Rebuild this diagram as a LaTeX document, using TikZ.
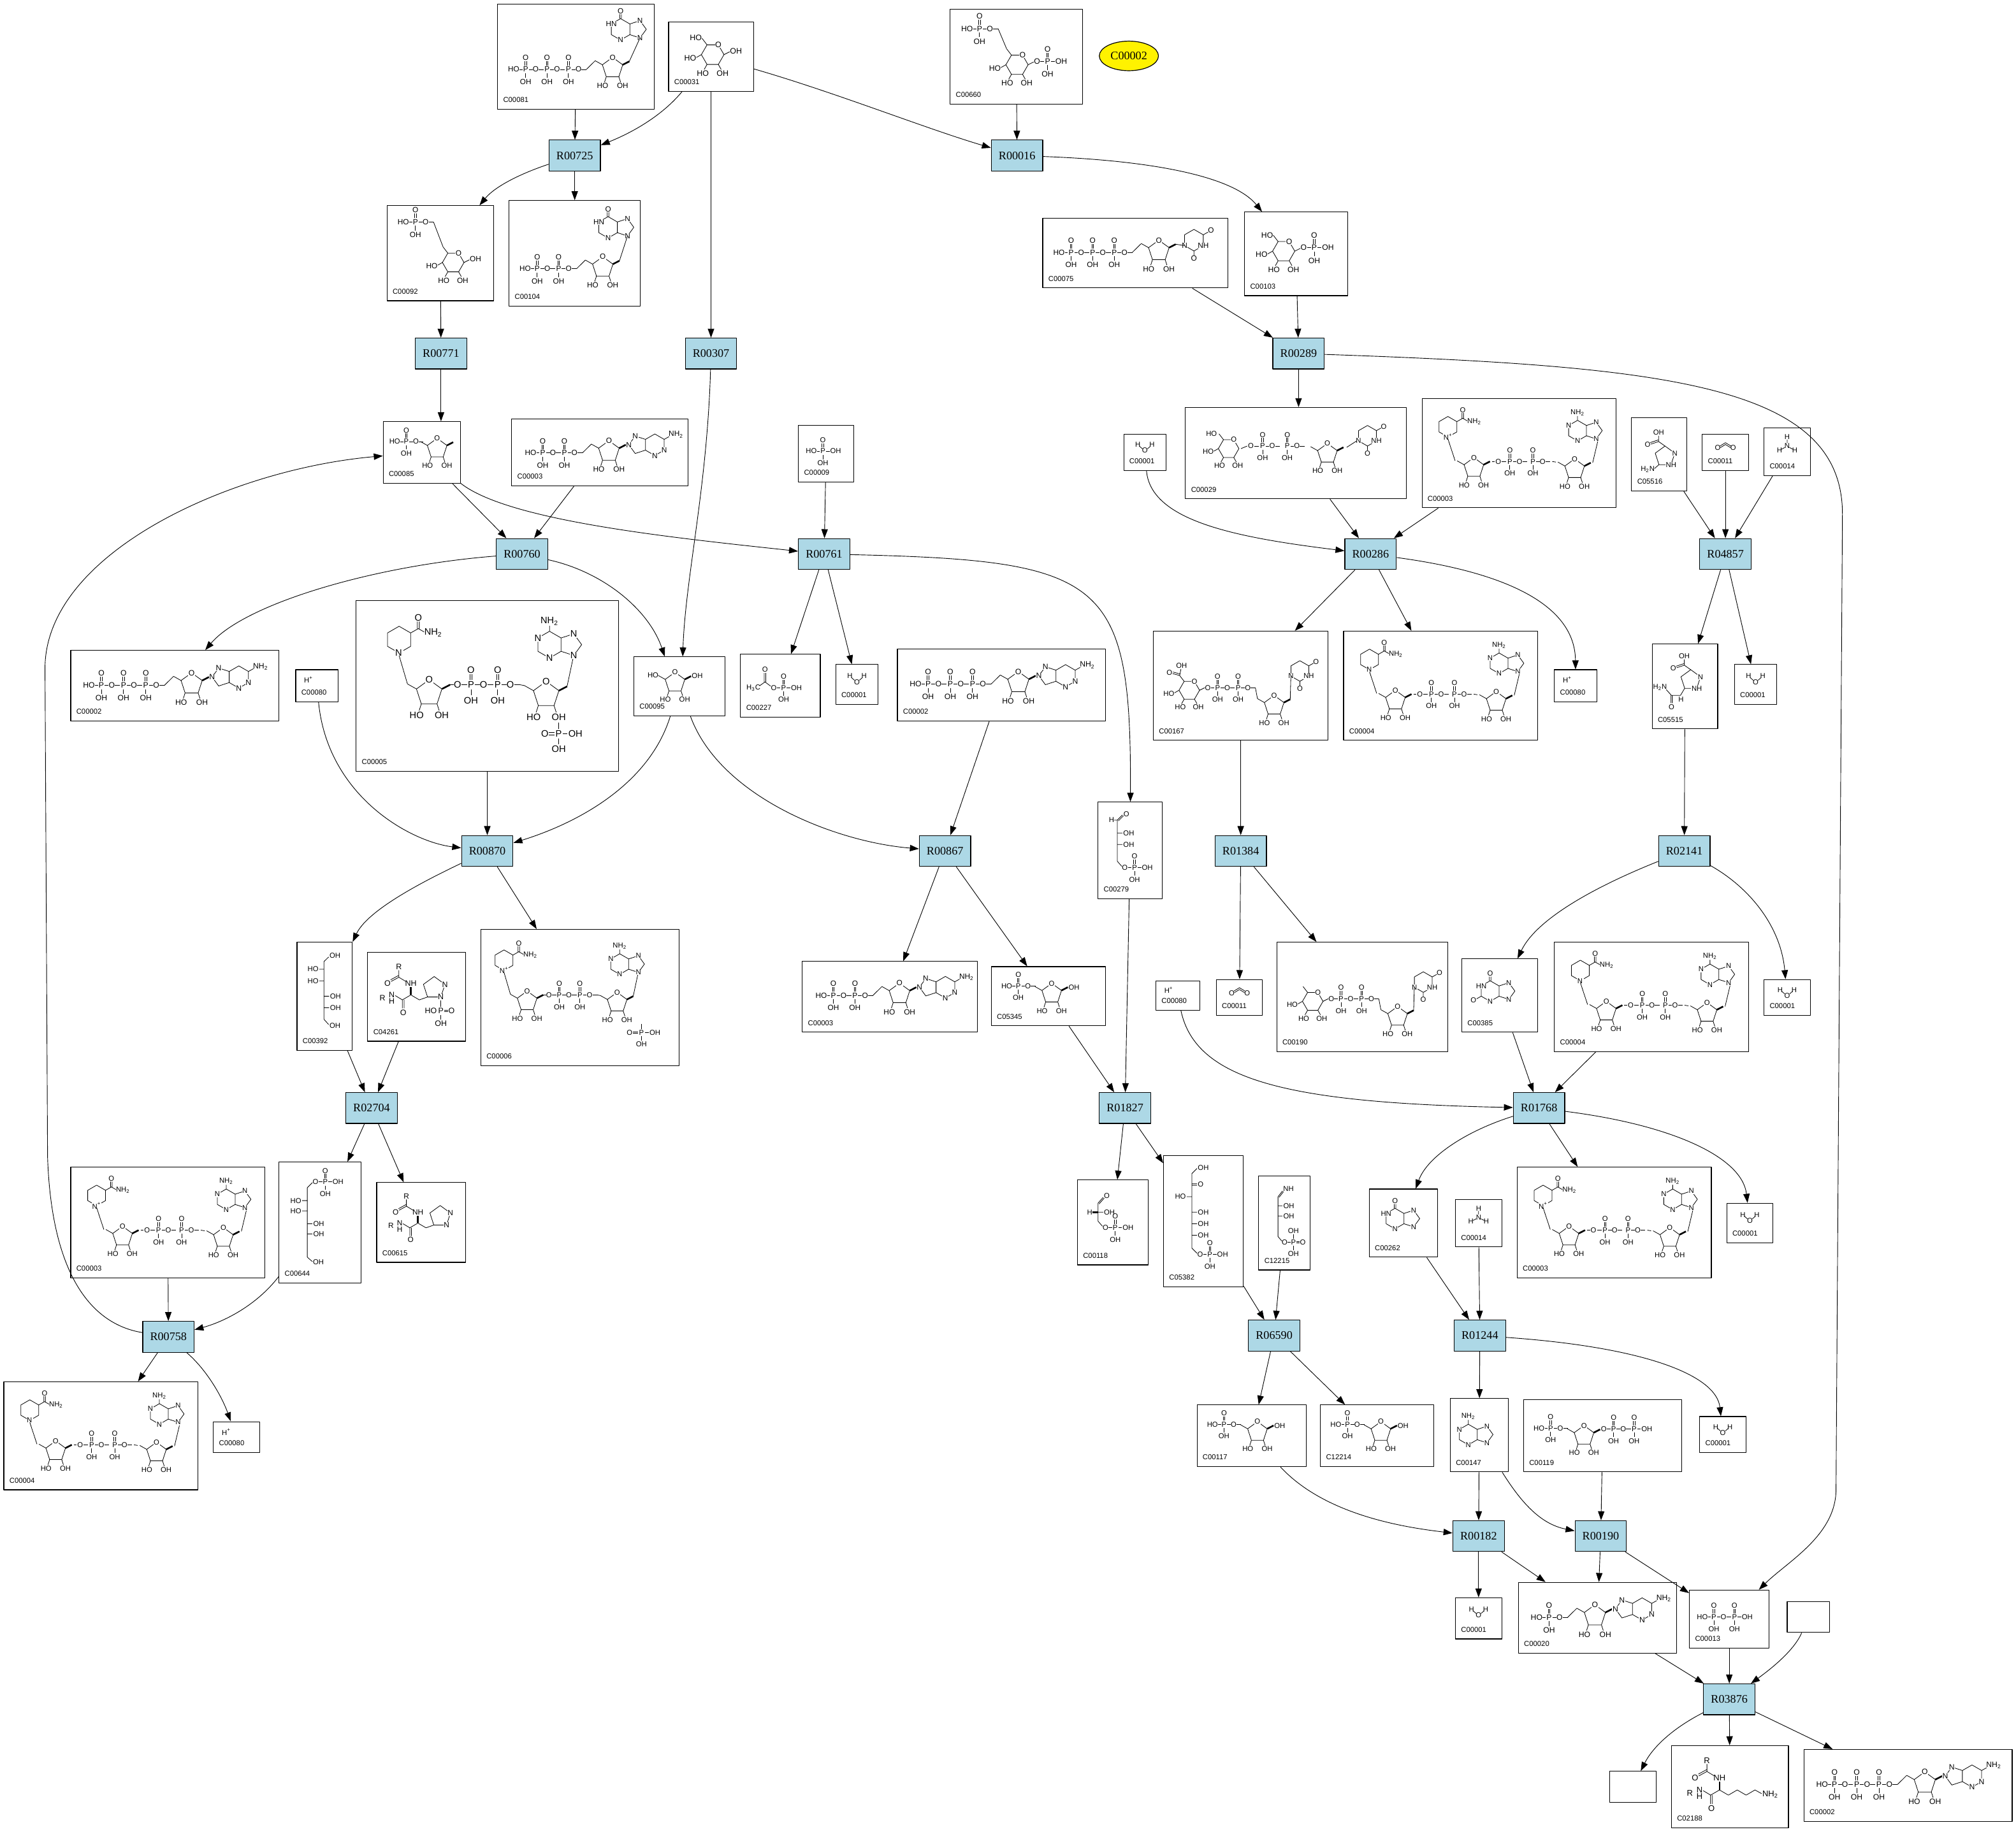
\documentclass[tikz,border=0pt]{standalone}
\usepackage{fontspec}
\setmainfont{Liberation Serif}
\newfontfamily\sansf{Liberation Sans}
\usetikzlibrary{arrows.meta,shapes.geometric}
\definecolor{rxblue}{HTML}{ADD8E6}
\newcommand\cpd[6]{%
  \node[cb,minimum width={(#4-#2)*1pt},minimum height={(#5-#3)*1pt}] (#1) at ({(#2+#4)/2},{(#3+#5)/2}) {};
  \node[idl] at ({#2+4.2},{#5-5.3}) {#6};}
\newcommand\cpdn[5]{%
  \node[cb,minimum width={(#4-#2)*1pt},minimum height={(#5-#3)*1pt}] (#1) at ({(#2+#4)/2},{(#3+#5)/2}) {};}
\tikzset{
 rx/.style={draw,line width=0.6pt,fill=rxblue,font=\fontsize{9}{10}\selectfont,minimum width=40pt,minimum height=24pt,inner sep=0pt},
 cb/.style={draw,line width=0.55pt,inner sep=0pt},
 idl/.style={font=\sansf\fontsize{5.6}{6}\selectfont,anchor=base west,inner sep=0pt},
 st/.style={font=\sansf\fontsize{5.6}{6}\selectfont,inner sep=0.3pt},
 sw/.style={st,fill=white},
 bd/.style={line width=0.4pt},
 wg/.style={line width=1.3pt},
 sc/.style={scale=#1,transform shape},
 ed/.style={line width=0.45pt,-{Triangle[length=7pt,width=5pt]}},
 ring6/.pic={\draw[bd] (0,-8)--(6.93,-4)--(6.93,4)--(0,8)--(-6.93,4)--(-6.93,-4)--cycle;},
 ring5/.pic={\draw[bd] (0,-8)--(7.61,-2.47)--(4.70,6.47)--(-4.70,6.47)--(-7.61,-2.47)--cycle;},
 pu/.pic={\draw[bd] (-0.6,-2.8)--(-0.6,-6.2) (0.6,-2.8)--(0.6,-6.2) (0,2.8)--(0,6.2) (2.4,0)--(5.2,0) (9.8,0)--(13.4,0);
   \node[st] at (0,0){P}; \node[st] at (0,-8.8){O}; \node[st] at (0,9.3){OH}; \node[st] at (7.5,0){O};},
 pend/.pic={\draw[bd] (-0.6,-2.8)--(-0.6,-6.2) (0.6,-2.8)--(0.6,-6.2) (0,2.8)--(0,6.2) (2.4,0)--(5.2,0);
   \node[st] at (0,0){P}; \node[st] at (0,-8.8){O}; \node[st] at (0,9.3){OH}; \node[st,anchor=west] at (5.2,0){OH};},
 pchain/.pic={\node[st] at (0,0){HO}; \draw[bd] (4.4,0)--(6.6,0);
   \foreach \k in {1,...,#1}{\pic at ({9+(\k-1)*16},0) {pu};}},
 rib/.pic={\pic{ring5}; \node[sw] at (0,-8){O};
   \draw[bd] (-4.7,6.47)--(-6,10.5) (4.7,6.47)--(6,10.5) (-7.61,-2.47)--(-13,-5.5);
   \draw[wg] (7.61,-2.47)--(12.5,-5);
   \node[st] at (-7.5,13.3){HO}; \node[st] at (7.5,13.3){OH};},
 adeL/.pic={\pic{ring6};
   \draw[bd] (-6.93,-4)--(-14.53,-6.47)--(-19.23,0)--(-14.53,6.47)--(-6.93,4) (6.93,-4)--(10.5,-6);
   \node[sw] at (-14.53,-6.47){N}; \node[sw] at (-19.23,0){N}; \node[sw] at (6.93,4){N}; \node[sw] at (0,8){N};
   \node[st,anchor=west] at (9.8,-7.6){NH\textsubscript{2}};},
 adeT/.pic={\pic{ring6};
   \draw[bd] (6.93,-4)--(14.53,-6.47)--(19.23,0)--(14.53,6.47)--(6.93,4) (0,-8)--(0,-11.3);
   \node[sw] at (-6.93,-4){N}; \node[sw] at (0,8){N}; \node[sw] at (14.53,-6.47){N}; \node[sw] at (14.53,6.47){N};
   \node[st] at (0,-14){NH\textsubscript{2}};},
 hyp/.pic={\pic{ring6};
   \draw[bd] (6.93,-4)--(14.53,-6.47)--(19.23,0)--(14.53,6.47)--(6.93,4) (-0.6,-8)--(-0.6,-11.3) (0.6,-8)--(0.6,-11.3);
   \node[sw] at (-6.93,-4){HN}; \node[sw] at (0,8){N}; \node[sw] at (14.53,-6.47){N}; \node[sw] at (14.53,6.47){N};
   \node[st] at (0,-13.6){O};},
 nic/.pic={\pic{ring6};
   \draw[bd] (6.93,-4)--(11.5,-6.6) (10.9,-6.6)--(10.9,-10.8) (12.1,-6.6)--(12.1,-10.8) (11.5,-6.6)--(15,-4.6);
   \node[sw] at (0,8){N\textsuperscript{#1}};
   \node[st] at (11.5,-13){O}; \node[st,anchor=west] at (14.6,-4.2){NH\textsubscript{2}};},
 ura/.pic={\pic{ring6};
   \draw[bd] (6.93,-4)--(10.5,-6) (0,8)--(0,11.3);
   \node[sw] at (-6.93,4){N}; \node[sw] at (6.93,4){NH};
   \node[st] at (12.6,-7.2){O}; \node[st] at (0,13.6){O};},
 pyrc/.pic={\draw[bd] (8,0)--(4,6.93)--(-4,6.93)--(-8,0)--(-4,-6.93)--(4,-6.93)--cycle;
   \node[sw] at (4,-6.93){O};
   \draw[bd] (-8,0)--(-11.5,2) (-4,6.93)--(-6,10.5) (4,6.93)--(6,10.5) (-4,-6.93)--(-7.5,-11.5);
   \node[st,anchor=east] at (-11.2,2.5){HO}; \node[st] at (-7,13.3){HO}; \node[st] at (7,13.3){OH};},
 wat/.pic={\node[st] at (-5.5,-2){H}; \node[st] at (0,2.5){O}; \node[st] at (5.5,-2){H};
   \draw[bd] (-4.2,-0.8)--(-1.9,1.2) (1.9,1.2)--(4.2,-0.8);},
 hplus/.pic={\node[st] at (0,0){H\textsuperscript{+}};},
 cotwo/.pic={\node[st] at (-6,1.5){O}; \node[st] at (6,1.5){O};
   \draw[bd] (-4.3,0)--(0,-2.6)--(4.3,0) (-3.9,1.2)--(0,-1.2)--(3.9,1.2);},
 nhthree/.pic={\node[st] at (0,-7){H}; \node[st] at (0,0){N}; \node[st] at (-6,3.2){H}; \node[st] at (6,3.2){H};
   \draw[bd] (0,-5)--(0,-2.2) (-1.8,1.1)--(-4.4,2.5) (1.8,1.1)--(4.4,2.5);},
 atp/.pic={\pic at (14,27){pchain=3}; \draw[bd] (68.4,27)--(75,20.5); \pic at (88,26){rib}; \pic at (122,21){adeL};},
 amp/.pic={\pic at (14,27){pchain=1}; \draw[bd] (36.4,27)--(43,20.5); \pic at (56,26){rib}; \pic at (90,21){adeL};},
 adp/.pic={\pic at (14,26){pchain=2}; \draw[bd] (52.4,26)--(59,19.5); \pic at (72,25){rib}; \pic at (106,20){adeL};},
 idp/.pic={\pic at (12,52){pchain=2}; \draw[bd] (50.4,52)--(57,45.5); \pic at (70,51){rib}; \pic at (74,21){hyp}; \draw[bd] (82.5,46)--(88.5,27.5);},
 itp/.pic={\pic at (12,50){pchain=3}; \draw[bd] (66.4,50)--(73,43.5); \pic at (86,49){rib}; \pic at (92,20){hyp}; \draw[bd] (98.5,44)--(106.5,26.5);},
 utp/.pic={\pic at (12,26){pchain=3}; \draw[bd] (66.4,26)--(73,19.5); \pic at (86,25){rib}; \pic at (112,17){ura}; \draw[bd] (98.5,20)--(105,21);},
 nad/.pic={\pic at (18,22){nic=#1}; \draw[bd] (18,31.5)--(23,48.5); \pic at (36,54){rib};
   \node[st] at (53,49){O}; \draw[bd] (48.5,49)--(50.6,49) (55.4,49)--(58.6,49);
   \pic at (61,49){pu}; \pic at (77,49){pu}; \draw[bd] (90.4,49)--(93,49.5);
   \pic at (106,55){rib}; \draw[bd] (118.5,50)--(122,33.5); \pic at (108,25){adeT};},
 nadp/.pic={\pic{nad=#1};
   \draw[bd] (113.5,71.5)--(113.5,75.5) (110.9,77.7)--(107.6,77.7) (110.9,78.9)--(107.6,78.9) (116,78.3)--(118.8,78.3) (113.5,81.1)--(113.5,84.5);
   \node[st] at (113.5,78.3){P}; \node[st] at (105.2,78.3){O};
   \node[st,anchor=west] at (118.8,78.3){OH}; \node[st] at (113.5,87.5){OH};},
 glc/.pic={\pic at (33,25){pyrc}; \node[st,anchor=east] at (25.8,13){HO}; \draw[bd] (41,25)--(45,23); \node[st,anchor=west] at (44.8,22.6){OH};},
 gsixp/.pic={\pic at (13,14){pchain=1}; \draw[bd] (35.4,14)--(42.5,32.5); \pic at (50,44){pyrc}; \draw[bd] (58,44)--(62,42); \node[st,anchor=west] at (61.8,41.6){OH};},
 gbisp/.pic={\pic at (14,16){pchain=1}; \draw[bd] (36.4,16)--(42.5,30.5); \pic at (50,42){pyrc}; \draw[bd] (58,42)--(62,40);
   \node[st] at (64.4,39.5){O}; \draw[bd] (66.8,39.5)--(69.6,39.5); \pic at (72,39.5){pend};},
 gonep/.pic={\pic at (30,30){pyrc}; \node[st,anchor=east] at (22.8,18.5){HO}; \draw[bd] (38,30)--(42,28);
   \node[st] at (44.4,27.5){O}; \draw[bd] (46.8,27.5)--(49.6,27.5); \pic at (52,27.5){pend};},
 fsixp/.pic={\pic at (9,15.5){pchain=1}; \pic at (42,21){rib};},
 fru/.pic={\pic at (32,20){rib}; \node[st,anchor=east] at (19.6,14.5){HO}; \node[st,anchor=west] at (44.6,15){OH};},
 sugp/.pic={\pic at (12,15){pchain=1}; \pic at (47,21){rib}; \node[st,anchor=west] at (59.6,16){OH};},
 prpp/.pic={\pic at (12,22){pchain=1}; \pic at (47,28){rib}; \node[st] at (62.4,22.6){O}; \draw[bd] (64.8,22.6)--(67.6,22.6);
   \pic at (70,22.6){pu}; \pic at (86,22.6){pend};},
 ppi/.pic={\pic at (10,21){pchain=1}; \pic at (35,21){pend};},
 phos/.pic={\node[st] at (10,20){HO}; \draw[bd] (14.4,20)--(16.6,20); \pic at (19,20){pend};},
 acp/.pic={\node[st] at (10,26){H\textsubscript{3}C}; \draw[bd] (14.8,24.5)--(19,21.5)--(23.4,24.8) (18.4,21.5)--(18.4,14.6) (19.6,21.5)--(19.6,14.6);
   \node[st] at (19,12){O}; \node[st] at (25.8,26){O}; \draw[bd] (28.2,26)--(31,26); \pic at (33.5,26){pend};},
 udpg/.pic={\pic at (28,32){pyrc}; \node[st,anchor=east] at (20.8,20.5){HO}; \draw[bd] (36,32)--(40,30);
   \node[st] at (42.4,30){O}; \draw[bd] (44.8,30)--(47.6,30); \pic at (50,30){pu}; \pic at (66,30){pu};
   \pic at (92,36){rib}; \pic at (118,22){ura}; \draw[bd] (104.5,31)--(111,26);},
 udpb/.pic={\pic at (28,46){pyrc}; \draw[bd] (36,46)--(40,44); \node[st] at (42.4,44){O}; \draw[bd] (44.8,44)--(47.6,44);
   \pic at (50,44){pu}; \pic at (66,44){pu}; \draw[bd] (79.4,44)--(81,52.5); \pic at (94,58){rib}; \pic at (114,31){ura}; \draw[bd] (106.5,53)--(107,35);},
 udpga/.pic={\pic{udpb}; \draw[bd] (20.5,34.5)--(15,33) (20.8,33.3)--(15.3,31.8) (20.5,34.5)--(21.5,29.5);
   \node[st] at (12.5,32.4){O}; \node[st] at (22,26.8){OH};},
 mannit/.pic={\draw[bd] (21,15)--(21,60) (21,15)--(24.6,11.5) (17.3,21)--(21,21) (17.3,30)--(21,30) (21,42)--(25,42) (21,51)--(25,51) (21,60)--(24.6,64);
   \node[st,anchor=west] at (24.8,10.5){OH}; \node[st,anchor=east] at (17.2,21){HO}; \node[st,anchor=east] at (17.2,30){HO};
   \node[st,anchor=west] at (25.2,42){OH}; \node[st,anchor=west] at (25.2,51){OH}; \node[st,anchor=west] at (24.8,65){OH};},
 monep/.pic={\draw[bd] (22,20)--(22,74) (22,20)--(26,16) (18,30)--(22,30) (18,38)--(22,38) (22,48)--(26,48) (22,56)--(26,56) (22,74)--(26,77.5);
   \node[st] at (28.4,15.5){O}; \draw[bd] (30.8,15.5)--(33.6,15.5); \pic at (36,15.5){pend};
   \node[st,anchor=east] at (17.8,30){HO}; \node[st,anchor=east] at (17.8,38){HO};
   \node[st,anchor=west] at (26.2,48){OH}; \node[st,anchor=west] at (26.2,56){OH}; \node[st,anchor=west] at (26,78){OH};},
 efourp/.pic={\draw[bd] (15,14)--(15,46)--(18.5,50) (15,14)--(19,10) (15.8,14.6)--(19.8,10.6) (12.4,14)--(15,14) (15,24)--(19,24) (15,33)--(19,33);
   \node[st] at (10.5,14){H}; \node[st,anchor=west] at (19.4,9.5){O};
   \node[st,anchor=west] at (19.2,24){OH}; \node[st,anchor=west] at (19.2,33){OH};
   \node[st] at (20.8,51){O}; \draw[bd] (23.2,51)--(26,51); \pic at (28.4,51){pend};},
 gthreep/.pic={\draw[bd] (16,18)--(16,32)--(19.5,36) (16,18)--(20,13.5) (16.8,18.6)--(20.8,14.1) (16,25)--(20,25); \draw[wg] (11.5,25)--(16,25);
   \node[st,anchor=west] at (20.2,12.5){O}; \node[st] at (9.5,25){H}; \node[st,anchor=west] at (20.2,25){OH};
   \node[st] at (21.8,37){O}; \draw[bd] (24.2,37)--(27,37); \pic at (29.4,37){pend};},
 ssevenp/.pic={\draw[bd] (22,14)--(22,72)--(26,76) (22,14)--(26,10) (22,22)--(26,22) (22,23.2)--(26,23.2) (18,32)--(22,32) (22,44)--(26,44) (22,53)--(26,53) (22,62)--(26,62);
   \node[st,anchor=west] at (26.2,9.5){OH}; \node[st,anchor=west] at (26.2,22.6){O}; \node[st,anchor=east] at (17.8,32){HO};
   \node[st,anchor=west] at (26.2,44){OH}; \node[st,anchor=west] at (26.2,53){OH}; \node[st,anchor=west] at (26.2,62){OH};
   \node[st] at (28.4,77){O}; \draw[bd] (30.8,77)--(33.6,77); \pic at (36,77){pend};},
 imine/.pic={\draw[bd] (15,16)--(15,47)--(18,50.5) (15,16)--(18.5,11.5) (15.8,16.5)--(19.3,12) (15,23)--(18.5,23) (15,31)--(18.5,31);
   \node[st,anchor=west] at (18.6,10){NH}; \node[st,anchor=west] at (18.7,23){OH}; \node[st,anchor=west] at (18.7,31){OH};
   \node[st] at (20.2,51.5){O}; \draw[bd] (22.6,51.5)--(24.6,51.5); \node[st] at (27,51.5){P};
   \draw[bd] (27,48.7)--(27,45.3) (27,54.3)--(27,57.7) (29.4,50.9)--(32,50.9) (29.4,52.1)--(32,52.1);
   \node[st] at (27,42.6){OH}; \node[st] at (27,60.5){OH}; \node[st] at (34.3,51.5){O};},
 xan/.pic={\pic at (22,25){hyp}; \draw[bd] (15.07,29)--(11.5,31); \node[st] at (9,32.3){O};},
 hx/.pic={\pic at (20,23){hyp};},
 aden/.pic={\pic at (14,28){adeT};},
 aicar/.pic={\pic at (26,30){ring5}; \node[sw] at (33.61,27.53){N}; \node[sw] at (30.7,36.47){NH};
   \draw[bd] (26,22)--(21,18.5) (21,18.5)--(21,14) (21,18.5)--(15,20.5) (20.6,17.3)--(14.6,19.3);
   \node[st] at (21,11.5){OH}; \node[st] at (12.4,20.6){O};
   \draw[bd] (21.3,36.47)--(17.8,39.5); \node[st,anchor=east] at (18.4,40.2){H\textsubscript{2}N};},
 ncair/.pic={\pic at (30,28){ring5}; \node[sw] at (37.61,25.53){N}; \node[sw] at (34.7,34.47){NH};
   \draw[bd] (30,20)--(25,16.5) (25,16.5)--(25,12) (25,16.5)--(19,18.5) (24.6,15.3)--(18.6,17.3);
   \node[st] at (25,9.5){OH}; \node[st] at (16.4,18.6){O};
   \draw[bd] (25.3,34.47)--(22,40)--(15,40) (15,40)--(11,35.5) (14.4,40)--(14.4,46) (15.6,40)--(15.6,46);
   \node[st] at (15,49){O}; \node[st,anchor=east] at (12,33.5){H\textsubscript{2}N}; \node[st] at (22.5,43){H};},
 pept/.pic={\node[st] at (22,10){R}; \draw[bd] (22,12.5)--(22,17.5)--(16.5,20.5) (21.7,16.3)--(16.2,19.3) (22,17.5)--(27,20.5);
   \node[st] at (14,22){O}; \node[st] at (30.5,22){NH};
   \draw[wg] (30.5,24.5)--(30.5,30); \draw[bd] (30.5,30)--(24.5,33.5) (30.5,30)--(36.5,33.5)--(42.3,31.47);
   \draw[bd] (24.5,33.5)--(24.5,39.5) (25.7,33.5)--(25.7,39.5) (24.5,33.5)--(19.5,30.5);
   \node[st] at (25.1,42.5){O}; \node[st] at (17,30){N}; \node[st] at (17,34.5){H}; \node[st] at (10.5,32){R};
   \pic at (47,25){ring5}; \node[sw] at (54.61,22.53){N}; \node[sw] at (51.7,31.47){N};},
 phis/.pic={\pic{pept}; \draw[bd] (51.7,34)--(51.7,38.5) (54.1,40.7)--(57,40.7) (54.1,41.9)--(57,41.9) (51.7,44.1)--(51.7,47.5);
   \node[st] at (51.7,41.3){P}; \node[st,anchor=east] at (49.3,41.3){HO}; \node[st] at (59.3,41.3){O}; \node[st] at (51.7,50.3){OH};},
 lys/.pic={\node[st] at (24,10){R}; \draw[bd] (24,12.5)--(24,17.5)--(18.5,20.5) (23.7,16.3)--(18.2,19.3) (24,17.5)--(29,20.5);
   \node[st] at (16,22){O}; \node[st] at (32.5,22){NH};
   \draw[wg] (32.5,24.5)--(32.5,30); \draw[bd] (32.5,30)--(26.5,33.5) (26.5,33.5)--(26.5,39.5) (27.7,33.5)--(27.7,39.5) (26.5,33.5)--(21.5,30.5);
   \node[st] at (27.1,42.5){O}; \node[st] at (19,30){N}; \node[st] at (19,34.5){H}; \node[st] at (12.5,32){R};
   \draw[bd] (32.5,30)--(38.5,33.5)--(44.5,30)--(50.5,33.5)--(56.5,30)--(61,32.5);
   \node[st,anchor=west] at (61,33){NH\textsubscript{2}};},
}
\begin{document}
\begin{tikzpicture}[x=1pt,y=-1pt,line join=round]
\fill[white] (0,0) rectangle (1568,1425.2);
\useasboundingbox (0,0) rectangle (1568,1425.2);
% reactions
\node[rx] (R00725) at (447,121) {R00725};
\node[rx] (R00016) at (791,121) {R00016};
\node[rx] (R00771) at (343,275) {R00771};
\node[rx] (R00307) at (553,275) {R00307};
\node[rx] (R00289) at (1010,275) {R00289};
\node[rx] (R00760) at (406,431) {R00760};
\node[rx] (R00761) at (641,431) {R00761};
\node[rx] (R00286) at (1066,431) {R00286};
\node[rx] (R04857) at (1342,431) {R04857};
\node[rx] (R00870) at (379,662) {R00870};
\node[rx] (R00867) at (735,662) {R00867};
\node[rx] (R01384) at (965,662) {R01384};
\node[rx] (R02141) at (1310,662) {R02141};
\node[rx] (R02704) at (289,862) {R02704};
\node[rx] (R01827) at (875,862) {R01827};
\node[rx] (R01768) at (1197,862) {R01768};
\node[rx] (R00758) at (131,1040) {R00758};
\node[rx] (R06590) at (991,1039) {R06590};
\node[rx] (R01244) at (1151,1039) {R01244};
\node[rx] (R00182) at (1150,1195) {R00182};
\node[rx] (R00190) at (1245,1195) {R00190};
\node[rx] (R03876) at (1345,1322) {R03876};
\node[ellipse,draw,line width=0.6pt,fill=yellow,minimum width=46pt,minimum height=23pt,inner sep=0pt,font=\fontsize{9}{10}\selectfont] (yatp) at (878,43.5) {C00002};
% compounds
\cpd{a81}{387}{3}{509}{85}{C00081} \pic[sc=1.04] at (387,2){itp};
\cpd{a31}{520}{17}{586}{71}{C00031} \pic[sc=1.1] at (518,15){glc};
\cpd{a660}{739}{7}{842}{81}{C00660} \pic[sc=1.08] at (737,5){gbisp};
\cpd{a92}{301}{160}{384}{234}{C00092} \pic[sc=1.05] at (300,158){gsixp};
\cpd{a104}{396}{156}{498}{238}{C00104} \pic[sc=1.04] at (396,155){idp};
\cpd{a75}{811}{170}{955}{224}{C00075} \pic[sc=1.05] at (811,169){utp};
\cpd{a103}{968}{165}{1048}{230}{C00103} \pic[sc=1.08] at (966,163){gonep};
\cpd{a85}{298}{328}{358}{376}{C00085} \pic at (298,328){fsixp};
\cpd{a3a}{398}{326}{535}{378}{C00003} \pic[sc=1.05] at (398,325){adp};
\cpd{a9}{621}{331}{664}{375}{C00009} \pic at (621,331){phos};
\cpd{w1}{874}{338}{907}{366}{C00001} \pic at (890.5,348){wat};
\cpd{a29}{922}{317}{1094}{388}{C00029} \pic[xscale=1.2] at (922,317){udpg};
\cpd{a3b}{1106}{310}{1257}{395}{C00003} \pic[xscale=1.12] at (1106,310){nad=+};
\cpd{a5516}{1269}{325}{1312}{382}{C05516} \pic at (1269,325){aicar};
\cpd{a11a}{1324}{338}{1360}{366}{C00011} \pic at (1342,347){cotwo};
\cpd{a14a}{1372}{333}{1408}{370}{C00014} \pic at (1390,347){nhthree};
\cpd{a2a}{55}{506}{217}{561}{C00002} \pic[sc=1.08] at (54,504){atp};
\cpd{h1}{230}{521}{263}{546}{C00080} \pic at (240,529){hplus};
\cpd{a5L}{277}{467}{481}{600}{C00005} \pic[sc=1.3] at (287,469){nadp={}};
\cpd{a95}{493}{511}{564}{557}{C00095} \pic at (493,511){fru};
\cpd{a227}{576}{509}{638}{558}{C00227} \pic at (576,509){acp};
\cpd{w2}{650}{517}{683}{548}{C00001} \pic at (666.5,528){wat};
\cpd{a2b}{698}{505}{860}{561}{C00002} \pic[sc=1.08] at (697,503){atp};
\cpd{a167}{897}{491}{1033}{576}{C00167} \pic at (897,491){udpga};
\cpd{a4a}{1045}{491}{1196}{576}{C00004} \pic[xscale=1.12] at (1045,491){nad={}};
\cpd{h2}{1209}{521}{1242}{546}{C00080} \pic at (1219,529){hplus};
\cpd{a5515}{1285}{501}{1336}{567}{C05515} \pic at (1285,501){ncair};
\cpd{w3}{1349}{517}{1382}{548}{C00001} \pic at (1365.5,528){wat};
\cpd{a279}{854}{624}{904}{699}{C00279} \pic at (854,624){efourp};
\cpd{a392}{231}{733}{274}{817}{C00392} \pic at (231,733){mannit};
\cpd{a4261}{286}{741}{362}{810}{C04261} \pic[sc=1.1] at (286,741){phis};
\cpd{a6}{374}{723}{528}{829}{C00006} \pic[xscale=1.1] at (374,725){nadp=+};
\cpd{a3c}{624}{748}{760}{803}{C00003} \pic[sc=1.05] at (624,747){adp};
\cpd{a5345}{771}{752}{860}{798}{C05345} \pic at (771,752){sugp};
\cpd{h3}{899}{763}{933}{786}{C00080} \pic at (909,770){hplus};
\cpd{a11b}{946}{762}{982}{790}{C00011} \pic at (964,771){cotwo};
\cpd{a190}{993}{733}{1126}{818}{C00190} \pic at (993,733){udpb};
\cpd{a385}{1137}{746}{1196}{803}{C00385} \pic at (1137,746){xan};
\cpd{a4b}{1209}{733}{1360}{818}{C00004} \pic[xscale=1.12] at (1209,733){nad={}};
\cpd{w4}{1372}{762}{1408}{790}{C00001} \pic at (1390,772){wat};
\cpd{a644}{217}{904}{281}{998}{C00644} \pic at (217,904){monep};
\cpd{a615}{293}{920}{362}{982}{C00615} \pic[sc=1.05] at (293,920){pept};
\cpd{a3e}{55}{908}{206}{994}{C00003} \pic[xscale=1.12] at (55,908){nad=+};
\cpd{a118}{838}{918}{893}{984}{C00118} \pic at (838,918){gthreep};
\cpd{a5382}{905}{899}{967}{1001}{C05382} \pic at (905,899){ssevenp};
\cpd{a12215}{979}{915}{1019}{988}{C12215} \pic at (979,915){imine};
\cpd{a262}{1065}{925}{1118}{978}{C00262} \pic at (1065,925){hx};
\cpd{a14b}{1132}{933}{1168}{970}{C00014} \pic at (1150,947){nhthree};
\cpd{a3d}{1180}{908}{1331}{994}{C00003} \pic[xscale=1.12] at (1180,908){nad=+};
\cpd{w5}{1343}{936}{1379}{967}{C00001} \pic at (1361,947){wat};
\cpd{a4c}{3}{1075}{154}{1159}{C00004} \pic[xscale=1.12] at (3,1075){nad={}};
\cpd{h4}{166}{1106}{202}{1130}{C00080} \pic at (176,1114){hplus};
\cpd{a117}{931}{1093}{1016}{1141}{C00117} \pic at (931,1093){sugp};
\cpd{a12214}{1027}{1093}{1115}{1141}{C12214} \pic at (1027,1093){sugp};
\cpd{a147}{1128}{1088}{1173}{1145}{C00147} \pic at (1128,1088){aden};
\cpd{a119}{1185}{1089}{1308}{1145}{C00119} \pic at (1185,1089){prpp};
\cpd{w6}{1322}{1102}{1358}{1130}{C00001} \pic at (1340,1112){wat};
\cpd{w7}{1132}{1243}{1168}{1275}{C00001} \pic at (1150,1254){wat};
\cpd{a20}{1181}{1231}{1304}{1286}{C00020} \pic[sc=1.08] at (1180,1229){amp};
\cpd{a13}{1314}{1237}{1376}{1282}{C00013} \pic at (1314,1237){ppi};
\cpdn{e1}{1390}{1246}{1423}{1270}
\cpdn{e2}{1252}{1378}{1288}{1402}
\cpd{a2188}{1300}{1358}{1391}{1422}{C02188} \pic[sc=1.15] at (1300,1358){lys};
\cpd{a2c}{1403}{1361}{1565}{1417}{C00002} \pic[sc=1.08] at (1402,1359){atp};
% edges
\draw[ed] (a81) -- (R00725);
\draw[ed] (a31) .. controls (515,90) and (492,103) .. (R00725);
\draw[ed] (a31) -- (R00307);
\draw[ed] (a31) .. controls (650,72) and (720,100) .. (R00016);
\draw[ed] (a660) -- (R00016);
\draw[ed] (R00725) .. controls (405,135) and (385,145) .. (a92);
\draw[ed] (R00725) -- (a104);
\draw[ed] (R00016) .. controls (900,125) and (960,138) .. (a103);
\draw[ed] (a92) -- (R00771);
\draw[ed] (a75) -- (R00289);
\draw[ed] (a103) -- (R00289);
\draw[ed] (R00771) -- (R00771 |- a85.north);
\draw[ed] (R00307) .. controls (550,380) and (533,450) .. ([xshift=2.5pt]a95.north);
\draw[ed] (R00289) -- (R00289 |- a29.north);
\draw[ed] (R00289) .. controls (1300,285) and (1433,300) .. (1433,400) -- (1428,1160) .. controls (1427,1195) and (1390,1215) .. (a13);
\draw[ed] (a85) -- (R00760);
\draw[ed] (a3a) -- (R00760);
\draw[ed] (a85) .. controls (395,405) and (520,418) .. (R00761);
\draw[ed] (a9) -- (R00761);
\draw[ed] (R00760) .. controls (290,440) and (190,470) .. (a2a);
\draw[ed] (R00760) .. controls (470,445) and (505,475) .. ([xshift=-11.5pt]a95.north);
\draw[ed] (R00761) -- (a227);
\draw[ed] (R00761) -- (w2);
\draw[ed] (R00761) .. controls (860,436) and (880,450) .. (a279);
\draw[ed] (w1) .. controls (895,405) and (960,418) .. (R00286);
\draw[ed] (a29) -- (R00286);
\draw[ed] (a3b) -- (R00286);
\draw[ed] (R00286) -- (a167);
\draw[ed] (R00286) -- (a4a);
\draw[ed] (R00286) .. controls (1170,445) and (1225,470) .. (h2);
\draw[ed] (a5516) -- (R04857);
\draw[ed] (a11a) -- (R04857);
\draw[ed] (a14a) -- (R04857);
\draw[ed] (R04857) -- (a5515);
\draw[ed] (R04857) -- (w3);
\draw[ed] (h1) .. controls (255,620) and (320,655) .. (R00870);
\draw[ed] (a5L) -- (R00870);
\draw[ed] (a95) .. controls (505,610) and (450,640) .. (R00870);
\draw[ed] (a95) .. controls (560,620) and (650,655) .. (R00867);
\draw[ed] (a2b) -- (R00867);
\draw[ed] (a167) -- (R01384);
\draw[ed] (a5515) -- (R02141);
\draw[ed] (R00870) .. controls (320,690) and (285,710) .. (a392.north east);
\draw[ed] (R00870) -- (a6);
\draw[ed] (R00867) -- (a3c);
\draw[ed] (R00867) -- (a5345);
\draw[ed] (R01384) -- (a11b);
\draw[ed] (R01384) -- (a190);
\draw[ed] (R02141) .. controls (1240,690) and (1195,715) .. (a385);
\draw[ed] (R02141) .. controls (1360,690) and (1385,720) .. (w4);
\draw[ed] (a392) -- (R02704);
\draw[ed] (a4261) -- (R02704);
\draw[ed] (a5345) -- (R01827);
\draw[ed] (a279) -- (R01827);
\draw[ed] (h3) .. controls (930,840) and (1000,858) .. (R01768);
\draw[ed] (a385) -- (R01768);
\draw[ed] (a4b) -- (R01768);
\draw[ed] (R02704) -- (a644);
\draw[ed] (R02704) -- (a615);
\draw[ed] (R01827) -- (a118);
\draw[ed] (R01827) -- (a5382);
\draw[ed] (R01768) .. controls (1140,880) and (1110,900) .. (a262);
\draw[ed] (R01768) -- (a3d);
\draw[ed] (R01768) .. controls (1300,875) and (1355,900) .. (w5);
\draw[ed] (a3e) -- (R00758);
\draw[ed] (a644) .. controls (200,1015) and (175,1028) .. (R00758);
\draw[ed] (R00758) .. controls (70,1030) and (40,990) .. (37,900) -- (35,520) .. controls (35,430) and (180,365) .. (a85);
\draw[ed] (R00758) -- (a4c);
\draw[ed] (R00758) .. controls (160,1065) and (172,1085) .. (h4);
\draw[ed] (a5382) -- (R06590);
\draw[ed] (a12215) -- (R06590);
\draw[ed] (a262) -- (R01244);
\draw[ed] (a14b) -- (R01244);
\draw[ed] (R01244) .. controls (1280,1048) and (1335,1070) .. (w6);
\draw[ed] (R01244) -- (a147);
\draw[ed] (R06590) -- (a117);
\draw[ed] (R06590) -- (a12214);
\draw[ed] (a117) .. controls (1030,1178) and (1090,1188) .. (R00182);
\draw[ed] (a147) -- (R00182);
\draw[ed] (a147) .. controls (1185,1172) and (1200,1186) .. (R00190);
\draw[ed] (a119) -- (R00190);
\draw[ed] (R00182) -- (w7);
\draw[ed] (R00182) -- (a20);
\draw[ed] (R00190) -- (a20);
\draw[ed] (R00190) -- (a13);
\draw[ed] (a20) -- (R03876);
\draw[ed] (a13) -- (R03876);
\draw[ed] (e1) .. controls (1395,1285) and (1375,1300) .. (R03876);
\draw[ed] (R03876) .. controls (1300,1345) and (1285,1360) .. (e2);
\draw[ed] (R03876) -- (a2188);
\draw[ed] (R03876) -- (a2c);
\end{tikzpicture}
\end{document}
